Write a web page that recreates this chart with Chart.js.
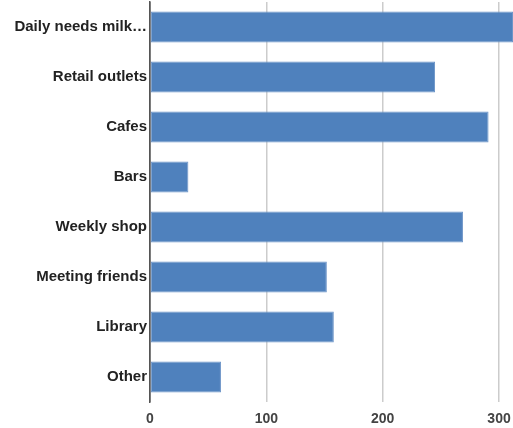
<!DOCTYPE html>
<html lang="en">
<head>
    <meta charset="UTF-8">
    <title>Reasons for visiting</title>
    <script src="https://cdn.jsdelivr.net/npm/chart.js"></script>
    <style>
        html, body { margin: 0; padding: 0; background: #fff; }
        #wrap { width: 513px; height: 428px; }
    </style>
</head>
<body>
    <div id="wrap"><canvas id="grafico" width="513" height="428"></canvas></div>

    <script>
        const categorias = ['Daily needs milk\u2026', 'Retail outlets', 'Cafes', 'Bars',
            'Weekly shop', 'Meeting friends', 'Library', 'Other'];
        const valores = [312, 245, 291, 33, 269, 152, 158, 61];
        const marcas = [0, 100, 200, 300];

        const ctx = document.getElementById('grafico').getContext('2d');
        new Chart(ctx, {
            type: 'bar',
            data: {
                labels: categorias,
                datasets: [{
                    data: valores,
                    backgroundColor: '#4f81bd',
                    borderColor: '#6d95c8',
                    borderWidth: 1,
                    borderSkipped: false,
                    categoryPercentage: 1,
                    barPercentage: 0.62
                }]
            },
            options: {
                indexAxis: 'y',
                responsive: false,
                animation: false,
                layout: { padding: { top: 2, right: 0, bottom: 0, left: 0 } },
                plugins: { legend: { display: false }, tooltip: { enabled: false } },
                scales: {
                    x: {
                        min: 0,
                        max: 312,
                        afterBuildTicks: s => { s.ticks = marcas.map(v => ({ value: v })); },
                        afterFit: s => { s.paddingLeft = 0; s.paddingRight = 0; s.height = 26; },
                        grid: {
                            color: c => c.tick && c.tick.value === 0 ? '#555' : '#cccccc',
                            lineWidth: 1.5,
                            drawTicks: false
                        },
                        border: { display: false },
                        ticks: {
                            padding: 9,
                            color: '#444',
                            font: { family: 'Liberation Sans', size: 14, weight: 'bold' }
                        }
                    },
                    y: {
                        afterFit: s => { s.width = 150; s.paddingTop = 0; s.paddingBottom = 0; },
                        grid: { display: false, drawTicks: false },
                        border: { display: true, color: '#555', width: 1.5 },
                        ticks: {
                            padding: 3,
                            color: '#222',
                            font: { family: 'Liberation Sans', size: 15, weight: 'bold' }
                        }
                    }
                }
            }
        });
    </script>
</body>
</html>
